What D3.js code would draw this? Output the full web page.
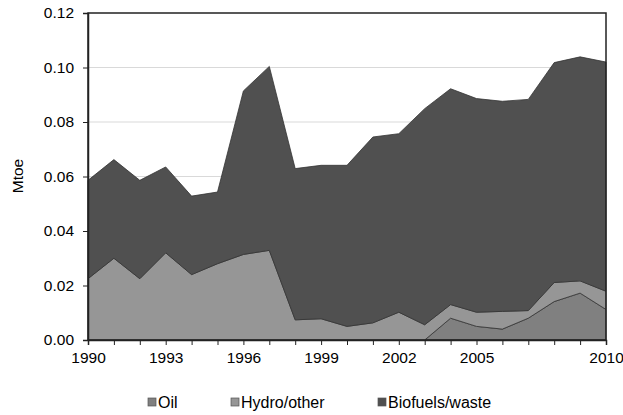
<!DOCTYPE html>
<html><head><meta charset="utf-8">
<script src="https://cdn.jsdelivr.net/npm/d3@7"></script>
<style>body{margin:0;background:#fff}svg{display:block}svg text{font-family:"Liberation Sans",Arial,sans-serif}</style>
</head><body><svg id="c" width="623" height="415"></svg>
<script>
const years = d3.range(1990, 2011);
const oil = [0,0,0,0,0,0,0,0,0,0,0,0,0,0,0.008,0.005,0.004,0.008,0.0141,0.0172,0.0112];
const hydro = [0.0225,0.030,0.0225,0.032,0.024,0.028,0.0314,0.0329,0.0074,0.0078,0.005,0.0063,0.0102,0.0056,0.005,0.0052,0.0065,0.0028,0.007,0.0045,0.0067];
const bio = [0.0361,0.0362,0.0361,0.0315,0.0288,0.0263,0.060,0.0675,0.0555,0.0563,0.0591,0.0682,0.0655,0.0793,0.0792,0.0784,0.0771,0.0775,0.0807,0.0822,0.0841];
const seriesNames = ["Oil","Hydro/other","Biofuels/waste"];
const colors = ["#808080","#969696","#505050"];
const yTicks = [0,0.02,0.04,0.06,0.08,0.10,0.12];
const xTicks = [1990,1993,1996,1999,2002,2005,2010];

const svg = d3.select("#c");
const L=88,R=606,T=13,B=340;
const FS=15.5;
const x = d3.scaleLinear().domain([1990,2010]).range([L,R]);
const y = d3.scaleLinear().domain([0,0.12]).range([B,T]);

const rows = years.map((yr,i)=>({year:yr,Oil:oil[i],"Hydro/other":hydro[i],"Biofuels/waste":bio[i]}));
const stack = d3.stack().keys(seriesNames)(rows);

svg.append("g").selectAll("line").data(yTicks.slice(1,-1)).join("line")
  .attr("x1",L).attr("x2",R).attr("y1",d=>y(d)).attr("y2",d=>y(d))
  .attr("stroke","#d9d9d9").attr("stroke-width",1);

const area = d3.area().x(d=>x(d.data.year)).y0(d=>y(d[0])).y1(d=>y(d[1]));
svg.append("g").selectAll("path").data(stack).join("path")
  .attr("d",area).attr("fill",(d,i)=>colors[i])
  .attr("stroke","#333").attr("stroke-width",0.8).attr("stroke-linejoin","round");

svg.append("rect").attr("x",L).attr("y",T).attr("width",R-L).attr("height",B-T)
  .attr("fill","none").attr("stroke","#222").attr("stroke-width",1.5);

const xAxis = d3.axisBottom(x).tickValues(years).tickSize(5).tickFormat(d=>xTicks.includes(d)?d:"");
const gx = svg.append("g").attr("transform",`translate(0,${B})`).call(xAxis);
gx.attr("font-family",null).attr("font-size",null);
gx.select(".domain").attr("stroke","#222").attr("stroke-width",1.5);
gx.selectAll(".tick line").attr("stroke","#222");
gx.selectAll("text").attr("font-size",FS).attr("fill","#000").attr("y",12);

const yAxis = d3.axisLeft(y).tickValues(yTicks).tickSize(5).tickFormat(d3.format(".2f"));
const gy = svg.append("g").attr("transform",`translate(${L},0)`).call(yAxis);
gy.attr("font-family",null).attr("font-size",null);
gy.select(".domain").attr("stroke","#222").attr("stroke-width",1.5);
gy.selectAll(".tick line").attr("stroke","#222");
gy.selectAll("text").attr("font-size",FS).attr("fill","#000").attr("x",-14);

svg.append("text").attr("transform","translate(23,176) rotate(-90)").attr("text-anchor","middle")
  .attr("font-size",FS).text("Mtoe");

const legX=[148,231,378];
const lg = svg.append("g").selectAll("g").data(seriesNames).join("g")
  .attr("transform",(d,i)=>`translate(${legX[i]},398)`);
lg.append("rect").attr("width",8).attr("height",8).attr("fill",(d,i)=>colors[i]).attr("stroke","#555").attr("stroke-width",0.7);
lg.append("text").attr("x",10).attr("y",10).attr("font-size",16).text(d=>d);
</script></body></html>
